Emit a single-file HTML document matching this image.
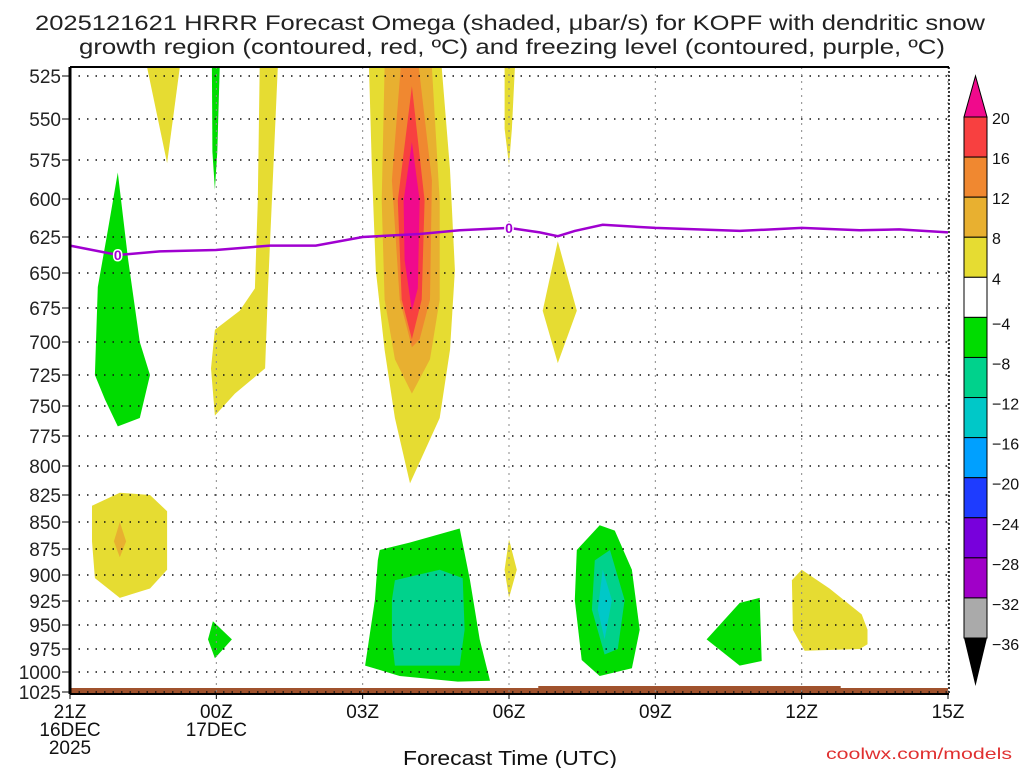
<!DOCTYPE html>
<html><head><meta charset="utf-8"><style>
body{margin:0;background:#fff;font-family:"Liberation Sans",sans-serif}
svg{display:block}
</style></head><body>
<svg id="chart" width="1024" height="768" xmlns="http://www.w3.org/2000/svg" font-family="Liberation Sans, sans-serif">
<text x="510" y="30" font-size="21" text-anchor="middle" fill="#222" textLength="950" lengthAdjust="spacingAndGlyphs">2025121621 HRRR Forecast Omega (shaded, μbar/s) for KOPF with dendritic snow</text>
<text x="512" y="54" font-size="21" text-anchor="middle" fill="#222" textLength="866" lengthAdjust="spacingAndGlyphs">growth region (contoured, red, ºC) and freezing level (contoured, purple, ºC)</text>
<g id="fills"></g>
<g id="grid"></g>
<g id="frz"></g>
<g id="axes"></g>
<g id="cbar"></g>
<text x="510" y="765" font-size="20" text-anchor="middle" fill="#111" textLength="214" lengthAdjust="spacingAndGlyphs">Forecast Time (UTC)</text>
<text x="1012" y="759" font-size="16" text-anchor="end" fill="#e03030" textLength="186" lengthAdjust="spacingAndGlyphs">coolwx.com/models</text>
</svg>
<script>
const NS="http://www.w3.org/2000/svg";
const pTicks=[525,550,575,600,625,650,675,700,725,750,775,800,825,850,875,900,925,950,975,1000,1025];
const pTickY=[76,119,160,199,237,273,308,342,375,406,436,466,495,522,549,575,601,625,649,672,692];
const xTickLabels=[["21Z","16DEC","2025"],["00Z","17DEC"],["03Z"],["06Z"],["09Z"],["12Z"],["15Z"]];
const xTickHours=[0,3,6,9,12,15,18];
const cbLabels=["20","16","12","8","4","−4","−8","−12","−16","−20","−24","−28","−32","−36"];
const frzHours=[0,0.98,1.84,2.99,4.10,5.04,6.0,7.17,7.99,9.0,9.63,10.0,10.35,10.92,12.0,13.73,15.0,16.19,17.0,18.0];
const frzP=[631,637.5,635,634,631,631,625,623,620.5,619,622,624.5,621,617,619,621,619,620.5,620,622];
const frzLabelIdx=[1,9];
const Y="#e6dc32",O1="#e8b030",O2="#f08830",R="#f84040",PK="#f00a8c",G="#00dc00",T="#00d28c",C="#00c8c8";
const cbColors=[R,O2,O1,Y,"#ffffff",G,T,C,"#00a0ff","#1e3cff","#7800dc","#a000c8","#aaaaaa"];
const shapeColors=[Y,G,G,Y,Y,O1,O2,R,PK,Y,Y,Y,O1,G,G,T,Y,G,T,C,G,Y];
const shapes=[
[[1.58,520],[2.25,520],[1.99,577]],
[[0.98,583],[1.19,640],[1.43,700],[1.64,725],[1.43,760],[0.98,767],[0.72,745],[0.51,725],[0.57,660],[0.78,620]],
[[2.91,520],[3.07,520],[3.02,570],[2.97,594],[2.92,570]],
[[3.89,520],[4.26,520],[4.14,601],[4.06,661],[4.0,720],[3.38,740],[2.97,758],[2.89,720],[2.97,691],[3.48,677],[3.79,661],[3.85,601]],
[[6.13,520],[7.62,520],[7.79,581],[7.89,648],[7.79,706],[7.58,760],[6.97,815],[6.66,760],[6.45,706],[6.27,648],[6.19,581]],
[[6.45,520],[7.42,520],[7.58,601],[7.58,669],[7.38,713],[7.01,740],[6.66,713],[6.45,669],[6.39,601]],
[[6.78,520],[7.15,520],[7.42,588],[7.38,669],[7.17,698],[7.01,704],[6.76,669],[6.60,588]],
[[7.01,531],[7.27,601],[7.21,669],[7.01,698],[6.80,669],[6.72,601]],
[[7.01,564],[7.17,601],[7.13,661],[7.01,677],[6.86,641],[6.84,601]],
[[8.91,520],[9.12,520],[9.06,556],[9.0,578],[8.91,556]],
[[10.0,628],[10.39,677],[10.0,716],[9.69,677]],
[[0.45,835],[1.02,823],[1.64,825],[1.99,840],[1.99,895],[1.64,913],[1.02,922],[0.51,903],[0.45,868]],
[[1.02,850],[1.15,868],[1.02,883],[0.9,868]],
[[2.93,946],[3.32,965],[2.97,985],[2.83,965]],
[[6.35,876],[6.97,869],[7.99,856],[8.20,905],[8.40,965],[8.61,1011],[7.95,1012],[6.76,1005],[6.05,993],[6.25,924],[6.31,886]],
[[6.66,905],[7.58,895],[8.05,903],[8.09,955],[7.99,993],[6.66,993],[6.60,965],[6.60,924]],
[[9.0,866],[9.16,895],[9.0,922],[8.91,895]],
[[10.39,876],[10.86,853],[11.17,858],[11.52,895],[11.68,955],[11.52,996],[10.86,1005],[10.49,987],[10.35,924]],
[[10.76,886],[11.07,876],[11.37,924],[11.23,975],[10.96,981],[10.70,934]],
[[10.92,895],[11.11,924],[10.96,965],[10.82,934]],
[[13.05,965],[13.73,927],[14.14,922],[14.18,988],[13.73,993]],
[[14.80,905],[15.0,895],[15.57,913],[16.23,939],[16.35,955],[16.35,970],[16.19,975],[15.06,977],[14.82,955]]
];
const X0=70,X1=948,TOP=67,BOT=693;
function xOf(h){return X0+(h/18)*(X1-X0);}
function yOf(p){
  if(p<=pTicks[0]) return pTickY[0]-(pTicks[0]-p)*43/25;
  for(let i=1;i<pTicks.length;i++){ if(p<=pTicks[i]){const t=(p-pTicks[i-1])/(pTicks[i]-pTicks[i-1]);return pTickY[i-1]+t*(pTickY[i]-pTickY[i-1]);} }
  return pTickY[pTickY.length-1];
}
function mk(tag,attrs,parent){const e=document.createElementNS(NS,tag);for(const k in attrs)e.setAttribute(k,attrs[k]);parent.appendChild(e);return e;}
const fills=document.getElementById('fills');
const clip=mk('clipPath',{id:'pc'},document.getElementById('chart'));
mk('rect',{x:X0,y:TOP,width:X1-X0,height:BOT-TOP},clip);
fills.setAttribute('clip-path','url(#pc)');
shapes.forEach((s,i)=>{
  const e=mk('polygon',{points:s.map(q=>xOf(q[0]).toFixed(1)+','+yOf(q[1]).toFixed(1)).join(' '),fill:shapeColors[i]},fills);
  
  
});
const sb=mk('rect',{x:X0,y:688,width:X1-X0,height:6,fill:'#a0522d'},fills);


const sb2=mk('rect',{x:xOf(9.6),y:686,width:xOf(15.8)-xOf(9.6),height:3,fill:'#a0522d'},fills);


const grid=document.getElementById('grid');
pTicks.forEach(p=>{
  const l=mk('line',{x1:X0,x2:X1,y1:yOf(p),y2:yOf(p),stroke:'#111','stroke-width':1.5,'stroke-dasharray':'1.5 7'},grid);
  
  
});
xTickHours.forEach(h=>{
  const l=mk('line',{x1:xOf(h),x2:xOf(h),y1:TOP,y2:BOT,stroke:'#888','stroke-width':1,'stroke-dasharray':'2 5'},grid);
  
  
});
const frz=document.getElementById('frz');
const fl=mk('polyline',{points:frzHours.map((h,i)=>xOf(h).toFixed(1)+','+yOf(frzP[i]).toFixed(1)).join(' '),fill:'none',stroke:'#a000d0','stroke-width':2.5},frz);


frzLabelIdx.forEach(i=>{
  const t=mk('text',{x:xOf(frzHours[i]),y:yOf(frzP[i])+5,'font-size':14,'font-weight':'bold','text-anchor':'middle',fill:'#a000d0',stroke:'#fff','stroke-width':3,'paint-order':'stroke'},frz);
  t.textContent='0';
  
  
});
const ax=document.getElementById('axes');
mk('line',{x1:X0,x2:X0,y1:TOP,y2:BOT+1,stroke:'#000','stroke-width':3},ax);
mk('line',{x1:X0,x2:X1+1,y1:TOP,y2:TOP,stroke:'#000','stroke-width':2},ax);
mk('line',{x1:X0,x2:X1+1,y1:BOT+1,y2:BOT+1,stroke:'#000','stroke-width':2},ax);
mk('line',{x1:X1+1,x2:X1+1,y1:TOP,y2:BOT,stroke:'#000','stroke-width':1.5,'stroke-dasharray':'2 2'},ax);
pTicks.forEach(p=>{
  const t=mk('text',{x:61,y:yOf(p)+7,'font-size':19,'text-anchor':'end',fill:'#222'},ax);
  t.textContent=p;
  
  
  mk('line',{x1:62,x2:X0,y1:yOf(p),y2:yOf(p),stroke:'#000','stroke-width':1},ax);
});
xTickHours.forEach((h,i)=>{
  mk('line',{x1:xOf(h),x2:xOf(h),y1:BOT,y2:BOT+6,stroke:'#000','stroke-width':1},ax);
  xTickLabels[i].forEach((s,j)=>{
    const t=mk('text',{x:xOf(h),y:718+j*18,'font-size':19,'text-anchor':'middle',fill:'#111'},ax);
    t.textContent=s;
    
    
  });
});
const cb=document.getElementById('cbar');
const CBX=964,CBW=23,CBT=117,CBB=638,BH=(CBB-CBT)/13;
mk('polygon',{points:`${CBX},${CBT} ${CBX+CBW},${CBT} ${CBX+CBW/2},76`,fill:PK,stroke:'#000','stroke-width':1},cb);
cbColors.forEach((c,i)=>{
  const r=mk('rect',{x:CBX,y:CBT+i*BH,width:CBW,height:BH,fill:c,stroke:'#000','stroke-width':1},cb);
  
  
});
mk('polygon',{points:`${CBX},${CBB} ${CBX+CBW},${CBB} ${CBX+CBW/2},686`,fill:'#000'},cb);
cbLabels.forEach((s,i)=>{
  const by=CBT+Math.min(i,13)*BH+(i>=5?BH*0:0);
  const yy=(i<5?CBT+i*BH:CBT+(i-1)*BH+BH)+ (i<5?0:0);
  const t=mk('text',{x:992,y:(i<5?CBT+i*BH:CBT+i*BH-BH+BH)+(i<5?7:12),'font-size':16,fill:'#111'},cb);
  t.textContent=s;
  
  
});
</script>
</body></html>
